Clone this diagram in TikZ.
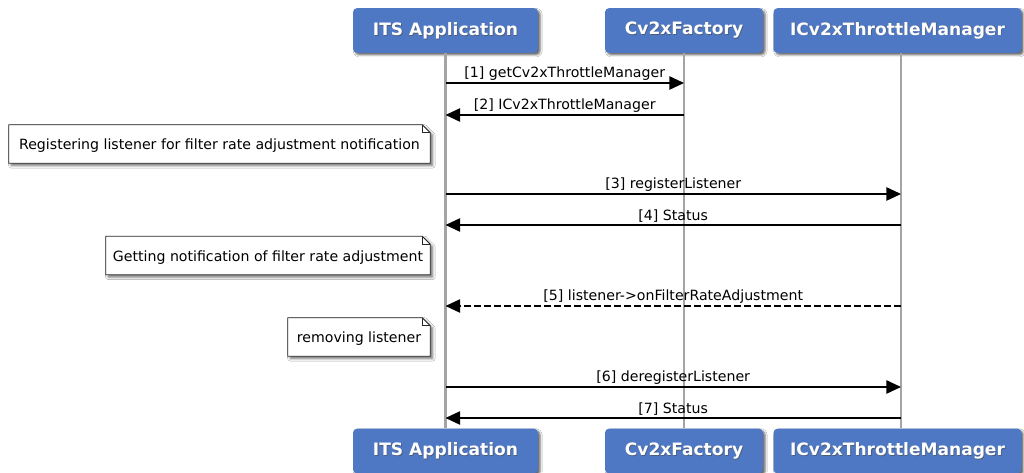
\documentclass[tikz,border=0pt]{standalone}
\usepackage{fontspec}
\setmainfont{DejaVu Sans}
\usetikzlibrary{arrows.meta,shadows.blur}
\definecolor{hdrblue}{HTML}{4E78C4}
\definecolor{lifegray}{HTML}{A4A4A4}
\tikzset{
  hdr/.style={rounded corners=3pt, fill=hdrblue, text=white, font=\bfseries\fontsize{12.8pt}{14pt}\selectfont,
    minimum height=33.5pt, inner sep=0pt,
    blur shadow={shadow xshift=1.6pt, shadow yshift=-1.6pt, shadow blur radius=1.5pt, shadow opacity=60}},
  hdrtxt/.style={font=\bfseries\fontsize{12.8pt}{14pt}\selectfont, inner sep=0pt},
  life/.style={draw=lifegray, line width=1.8pt},
  msg/.style={draw=black, line width=1.2pt, -{Triangle[length=11pt,width=10pt]}},
  dmsg/.style={msg, dash pattern=on 5pt off 2.5pt},
  lbl/.style={font=\fontsize{10.6pt}{12pt}\selectfont, inner sep=1pt, above=0.2pt},
  notebox/.style={inner sep=0pt, minimum height=28.5pt},
  notetxt/.style={font=\fontsize{10.6pt}{12pt}\selectfont, inner sep=0pt, yshift=-1.5pt},
  noteline/.style={draw=black!85, line width=0.6pt, fill=white},
}
\newcommand{\notepath}[1]{%
  \path[noteline, blur shadow={shadow xshift=1.8pt, shadow yshift=-1.8pt, shadow blur radius=1.8pt, shadow opacity=55}] (#1.south west) -- (#1.south east) -- ([yshift=-6pt]#1.north east) -- ([xshift=-6pt]#1.north east) -- (#1.north west) -- cycle;
  \draw[line width=0.5pt, draw=black!85] ([xshift=-6pt]#1.north east) -- ([xshift=-6pt,yshift=-6pt]#1.north east) -- ([yshift=-6pt]#1.north east);
}
\newcommand{\hdrlabel}[2]{%
  \node[hdrtxt, text=black!70, opacity=0.6] at ([xshift=0.6pt,yshift=-0.6pt]#1) {#2};
  \node[hdrtxt, text=white] at (#1) {#2};
}
\begin{document}
\begin{tikzpicture}[x=0.75pt,y=-0.75pt]
\useasboundingbox (0,0) rectangle (1024,473);
\fill[white] (0,0) rectangle (1024,473);
\coordinate (lC) at (901,53);
% headers
\node[hdr, minimum width=138.75pt] (tA) at (445.5,30.5) {};
\node[hdr, minimum width=118.5pt] (tB) at (684,30.5) {};
\node[hdr, minimum width=186pt] (tC) at (897.5,30.5) {};
\node[hdr, minimum width=138.75pt] (bA) at (445.5,451) {};
\node[hdr, minimum width=118.5pt] (bB) at (684,451) {};
\node[hdr, minimum width=186pt] (bC) at (897.5,451) {};
\hdrlabel{tA}{ITS Application}
\hdrlabel{tB}{Cv2xFactory}
\hdrlabel{tC}{ICv2xThrottleManager}
\hdrlabel{bA}{ITS Application}
\hdrlabel{bB}{Cv2xFactory}
\hdrlabel{bC}{ICv2xThrottleManager}
% lifelines
\draw[life] (tA.south) -- (bA.north);
\draw[life] (tB.south) -- (bB.north);
\draw[life] (tC.south -| lC) -- (bC.north -| lC);
% notes
\node[notebox, minimum width=315.75pt] (n1) at (219.5,144) {};
\notepath{n1}
\node[notetxt] at (n1) {Registering listener for filter rate adjustment notification};
\node[notebox, minimum width=243pt] (n2) at (268,255.5) {};
\notepath{n2}
\node[notetxt] at (n2) {Getting notification of filter rate adjustment};
\node[notebox, minimum width=106.5pt] (n3) at (359,337) {};
\notepath{n3}
\node[notetxt] at (n3) {removing listener};
% messages
\draw[msg] (tA.south |- 0,83) -- node[lbl]{[1] getCv2xThrottleManager} (tB.south |- 0,83);
\draw[msg] (tB.south |- 0,115) -- node[lbl]{[2] ICv2xThrottleManager} (tA.south |- 0,115);
\draw[msg] (tA.south |- 0,194) -- node[lbl]{[3] registerListener} (lC |- 0,194);
\draw[msg] (lC |- 0,225) -- node[lbl]{[4] Status} (tA.south |- 0,225);
\draw[dmsg] (lC |- 0,306) -- node[lbl]{[5] listener->onFilterRateAdjustment} (tA.south |- 0,306);
\draw[msg] (tA.south |- 0,387) -- node[lbl]{[6] deregisterListener} (lC |- 0,387);
\draw[msg] (lC |- 0,418) -- node[lbl]{[7] Status} (tA.south |- 0,418);
\end{tikzpicture}
\end{document}
